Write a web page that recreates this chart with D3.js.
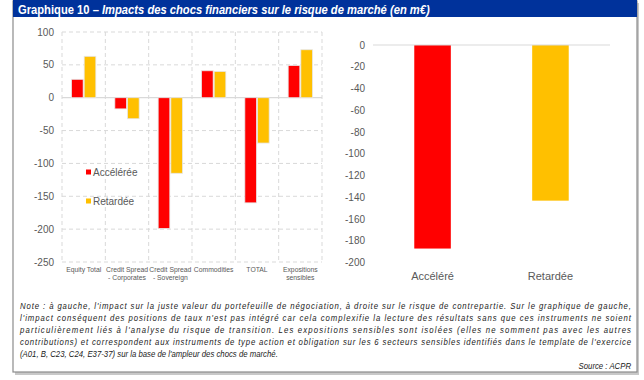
<!DOCTYPE html>
<html>
<head>
<meta charset="utf-8">
<script src="https://cdn.jsdelivr.net/npm/d3@7"></script>
<style>
  body { margin: 0; background: #fff; }
  svg { font-family: "Liberation Sans", Arial, sans-serif; }
</style>
</head>
<body>
<svg id="chart" width="644" height="380"></svg>
<script>
// left chart data (m€)
var categories = ["Equity Total", "Credit Spread - Corporates", "Credit Spread - Sovereign", "Commodities", "TOTAL", "Expositions sensibles"];
var categoryLines = [["Equity Total"], ["Credit Spread", "- Corporates"], ["Credit Spread", "- Sovereign"], ["Commodities"], ["TOTAL"], ["Expositions", "sensibles"]];
var series = ["Accélérée", "Retardée"];
var acceleree = [28, -17, -199, 41, -160, 49];
var retardee = [63, -32, -115, 40, -69, 73];
var leftTicks = [100, 50, 0, -50, -100, -150, -200, -250];

// right chart data
var rightCategories = ["Accéléré", "Retardée"];
var rightValues = [-187, -143];
var rightTicks = [0, -20, -40, -60, -80, -100, -120, -140, -160, -180, -200];

var colors = ["#ff0000", "#ffc000"];
var noteLines = [
  "Note : à gauche, l'impact sur la juste valeur du portefeuille de négociation, à droite sur le risque de contrepartie. Sur le graphique de gauche,",
  "l'impact conséquent des positions de taux n'est pas intégré car cela complexifie la lecture des résultats sans que ces instruments ne soient",
  "particulièrement liés à l'analyse du risque de transition. Les expositions sensibles sont isolées (elles ne somment pas avec les autres",
  "contributions) et correspondent aux instruments de type action et obligation sur les 6 secteurs sensibles identifiés dans le template de l'exercice",
  "(A01, B, C23, C24, E37-37) sur la base de l'ampleur des chocs de marché."
];

var svg = d3.select("#chart");

// frame + shadow
svg.append("rect").attr("x", 15).attr("y", 3).attr("width", 624).attr("height", 372).attr("fill", "#c8c8c8");
svg.append("rect").attr("x", 13).attr("y", 1).attr("width", 624).attr("height", 371)
  .attr("fill", "#fff").attr("stroke", "#8c8c8c").attr("stroke-width", 1.2);

// title bar (condensed look: narrow font not installed, so squeeze horizontally)
svg.append("rect").attr("x", 13).attr("y", 0).attr("width", 624).attr("height", 17).attr("fill", "#00329b");
var title = svg.append("text")
  .attr("transform", "translate(18,13.5) scale(0.83,1)")
  .attr("fill", "#fff").attr("font-size", 13.5).attr("font-weight", "bold");
title.append("tspan").text("Graphique 10 – ");
title.append("tspan").attr("font-style", "italic").text("Impacts des chocs financiers sur le risque de marché (en m€)");

// ---------- left chart ----------
var left = { x0: 62, x1: 322, y0: 32, y1: 262 };

var yLeft = d3.scaleLinear().domain([-250, 100]).range([left.y1, left.y0]);
var xLeft = d3.scaleBand().domain(categories).range([left.x0, left.x1]);
var xInner = d3.scaleBand().domain(series).range([0, xLeft.bandwidth()])
  .paddingInner(0.08).paddingOuter(0.75);

var gl = svg.append("g");

// horizontal dashed grid
gl.selectAll("line.hgrid")
  .data(leftTicks.filter(function(d) { return d !== 0; }))
  .enter().append("line")
  .attr("x1", left.x0).attr("x2", left.x1)
  .attr("y1", function(d) { return yLeft(d); })
  .attr("y2", function(d) { return yLeft(d); })
  .attr("stroke", "#d9d9d9").attr("stroke-dasharray", "4,3");

// vertical dashed grid at band edges
var edges = categories.map(function(c) { return xLeft(c); }).concat([left.x1]);
gl.selectAll("line.vgrid")
  .data(edges)
  .enter().append("line")
  .attr("x1", function(d) { return d; }).attr("x2", function(d) { return d; })
  .attr("y1", left.y0).attr("y2", left.y1)
  .attr("stroke", "#d9d9d9").attr("stroke-dasharray", "4,3");

// zero line
gl.append("line")
  .attr("x1", left.x0).attr("x2", left.x1)
  .attr("y1", yLeft(0)).attr("y2", yLeft(0))
  .attr("stroke", "#d9d9d9").attr("stroke-width", 1.2);

// bars
var leftRows = categories.map(function(c, i) {
  return { cat: c, values: [acceleree[i], retardee[i]] };
});
var groups = gl.selectAll("g.cat")
  .data(leftRows)
  .enter().append("g")
  .attr("transform", function(d) { return "translate(" + xLeft(d.cat) + ",0)"; });

groups.selectAll("rect")
  .data(function(d) { return d.values.map(function(v, j) { return { s: series[j], v: v, j: j }; }); })
  .enter().append("rect")
  .attr("x", function(d) { return xInner(d.s); })
  .attr("width", xInner.bandwidth())
  .attr("y", function(d) { return yLeft(Math.max(0, d.v)); })
  .attr("height", function(d) { return Math.abs(yLeft(d.v) - yLeft(0)); })
  .attr("fill", function(d) { return colors[d.j]; })
  .attr("stroke", "#e6e6e6").attr("stroke-width", 0.8);

// y axis labels
gl.selectAll("text.ytick")
  .data(leftTicks)
  .enter().append("text")
  .attr("x", 54)
  .attr("y", function(d) { return yLeft(d); })
  .attr("dy", "0.35em")
  .attr("text-anchor", "end")
  .attr("font-size", 10)
  .attr("fill", "#595959")
  .text(function(d) { return d; });

// x labels
var xl = gl.selectAll("text.xtick")
  .data(categoryLines)
  .enter().append("text")
  .attr("text-anchor", "middle")
  .attr("font-size", 6.8)
  .attr("fill", "#595959");
xl.each(function(lines, i) {
  var t = d3.select(this);
  lines.forEach(function(line, k) {
    t.append("tspan")
      .attr("x", xLeft(categories[i]) + xLeft.bandwidth() / 2)
      .attr("y", 272 + k * 7.5)
      .text(line);
  });
});

// legend
var legendY = [172, 201];
series.forEach(function(s, i) {
  gl.append("rect").attr("x", 86).attr("y", legendY[i] - 2.5).attr("width", 5).attr("height", 5).attr("fill", colors[i]);
  gl.append("text").attr("x", 93).attr("y", legendY[i]).attr("dy", "0.35em")
    .attr("font-size", 10).attr("fill", "#595959").text(s);
});

// ---------- right chart ----------
var right = { x0: 373, x1: 610, y0: 45, y1: 262.7 };
var yRight = d3.scaleLinear().domain([-200, 0]).range([right.y1, right.y0]);
var xRight = d3.scaleBand().domain(rightCategories).range([right.x0, right.x1])
  .paddingInner(0.69).paddingOuter(0.35);

var gr = svg.append("g");

gr.selectAll("rect")
  .data(rightCategories)
  .enter().append("rect")
  .attr("x", function(d) { return xRight(d); })
  .attr("width", xRight.bandwidth())
  .attr("y", yRight(0))
  .attr("height", function(d, i) { return yRight(rightValues[i]) - yRight(0); })
  .attr("fill", function(d, i) { return colors[i]; });

gr.append("line")
  .attr("x1", right.x0).attr("x2", right.x1)
  .attr("y1", yRight(0)).attr("y2", yRight(0))
  .attr("stroke", "#d9d9d9").attr("stroke-width", 1.2);

gr.selectAll("text.ytick")
  .data(rightTicks)
  .enter().append("text")
  .attr("x", 365)
  .attr("y", function(d) { return yRight(d); })
  .attr("dy", "0.35em")
  .attr("text-anchor", "end")
  .attr("font-size", 10)
  .attr("fill", "#595959")
  .text(function(d) { return d; });

gr.selectAll("text.xtick")
  .data(rightCategories)
  .enter().append("text")
  .attr("x", function(d) { return xRight(d) + xRight.bandwidth() / 2; })
  .attr("y", 280)
  .attr("text-anchor", "middle")
  .attr("font-size", 11)
  .attr("fill", "#595959")
  .text(function(d) { return d; });

// ---------- note ----------
var squeeze = 0.82;
var note = svg.append("g").attr("font-size", 9.5)
  .attr("font-style", "italic").attr("fill", "#1a1a1a");
noteLines.forEach(function(line, i) {
  var t = note.append("text")
    .attr("transform", "translate(20," + (309 + i * 12) + ") scale(" + squeeze + ",1)")
    .text(line);
  if (i < noteLines.length - 1) {
    t.attr("textLength", 611 / squeeze).attr("lengthAdjust", "spacing");
  }
});
note.append("text")
  .attr("transform", "translate(631,369) scale(" + squeeze + ",1)")
  .attr("text-anchor", "end").text("Source : ACPR");
</script>
</body>
</html>
